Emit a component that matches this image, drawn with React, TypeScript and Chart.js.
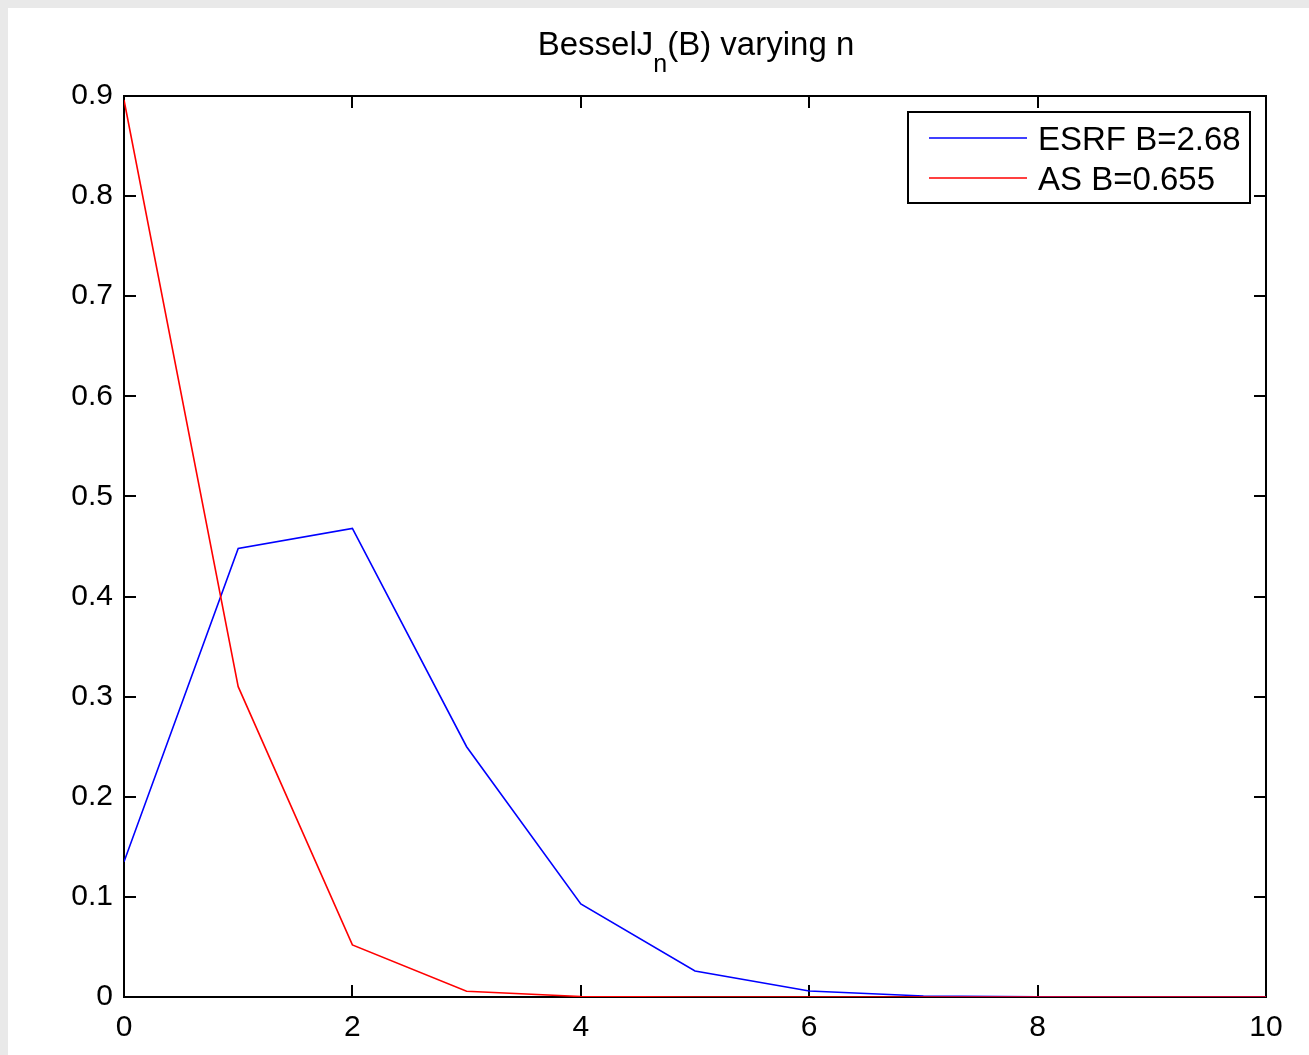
import React, { useEffect, useRef } from "react";
import { Chart, registerables } from "chart.js";

Chart.register(...registerables);

const nValues = [0, 1, 2, 3, 4, 5, 6, 7, 8, 9, 10];
const esrfValues = [0.135, 0.448, 0.468, 0.25, 0.093, 0.026, 0.006, 0.001, 0.0002, 0, 0];
const asValues = [0.896, 0.31, 0.052, 0.0057, 0.0005, 0.00003, 0, 0, 0, 0, 0];
const xTicks = [0, 2, 4, 6, 8, 10];
const yTicks = [0, 0.1, 0.2, 0.3, 0.4, 0.5, 0.6, 0.7, 0.8, 0.9];
const titleMain = "BesselJ";
const titleSub = "n";
const titleRest = "(B) varying n";
const seriesLabels = ["ESRF B=2.68", "AS B=0.655"];
const seriesColors = ["#0000ff", "#ff0000"];

const FONT = "'Liberation Sans', Arial, Helvetica, sans-serif";
const PAGE_GRAY = "#e9e9e9";

const fmt = (v: number) => String(Number(v.toFixed(2)));

const framePlugin = {
  id: "frame",
  beforeDatasetsDraw(chart: any) {
    const { ctx, chartArea } = chart;
    const { left, right, top, bottom } = chartArea;
    const xs = chart.scales.x;
    const ys = chart.scales.y;
    const tl = 12;
    ctx.save();
    ctx.strokeStyle = "#000";
    ctx.lineWidth = 2;
    ctx.beginPath();
    xTicks.forEach((v) => {
      const px = Math.round(xs.getPixelForValue(v));
      ctx.moveTo(px, bottom);
      ctx.lineTo(px, bottom - tl);
      ctx.moveTo(px, top);
      ctx.lineTo(px, top + tl);
    });
    yTicks.forEach((v) => {
      const py = Math.round(ys.getPixelForValue(v));
      ctx.moveTo(left, py);
      ctx.lineTo(left + tl, py);
      ctx.moveTo(right, py);
      ctx.lineTo(right - tl, py);
    });
    ctx.stroke();
    ctx.strokeRect(left, top, right - left, bottom - top);
    ctx.restore();
  },
  afterDraw(chart: any) {
    const { ctx, chartArea } = chart;
    const { left, right } = chartArea;
    ctx.save();
    // title
    ctx.fillStyle = "#000";
    ctx.textBaseline = "alphabetic";
    ctx.textAlign = "left";
    const mainFont = `33px ${FONT}`;
    const subFont = `25px ${FONT}`;
    ctx.font = mainFont;
    const w1 = ctx.measureText(titleMain).width;
    const w3 = ctx.measureText(titleRest).width;
    ctx.font = subFont;
    const w2 = ctx.measureText(titleSub).width;
    const total = w1 + w2 + w3;
    let x = (left + right) / 2 - total / 2 + 1;
    const base = 47;
    ctx.font = mainFont;
    ctx.fillText(titleMain, x, base);
    x += w1;
    ctx.font = subFont;
    ctx.fillText(titleSub, x, base + 17);
    x += w2;
    ctx.font = mainFont;
    ctx.fillText(titleRest, x, base);

    // legend
    const bx1 = right - 358;
    const bx2 = right - 16;
    const by1 = chartArea.top + 16;
    const by2 = chartArea.top + 107;
    ctx.fillStyle = "#fff";
    ctx.fillRect(bx1, by1, bx2 - bx1, by2 - by1);
    ctx.strokeStyle = "#000";
    ctx.lineWidth = 2;
    ctx.strokeRect(bx1, by1, bx2 - bx1, by2 - by1);
    ctx.font = `33px ${FONT}`;
    seriesLabels.forEach((lab, i) => {
      const ly = by1 + 26 + i * 40;
      ctx.strokeStyle = seriesColors[i];
      ctx.lineWidth = 1.5;
      ctx.beginPath();
      ctx.moveTo(bx1 + 21, ly);
      ctx.lineTo(bx1 + 119, ly);
      ctx.stroke();
      ctx.fillStyle = "#000";
      ctx.fillText(lab, bx1 + 130, ly + 12);
    });
    ctx.restore();
  },
};

export default function App() {
  const ref = useRef<HTMLCanvasElement | null>(null);

  useEffect(() => {
    const canvas = ref.current;
    if (!canvas) return;
    const chart = new Chart(canvas, {
      type: "line",
      data: {
        datasets: [
          {
            label: seriesLabels[0],
            data: nValues.map((n, i) => ({ x: n, y: esrfValues[i] })),
            borderColor: seriesColors[0],
            borderWidth: 1.6,
            pointRadius: 0,
            tension: 0,
            fill: false,
            order: 2,
          },
          {
            label: seriesLabels[1],
            data: nValues.map((n, i) => ({ x: n, y: asValues[i] })),
            borderColor: seriesColors[1],
            borderWidth: 1.6,
            pointRadius: 0,
            tension: 0,
            fill: false,
            order: 1,
          },
        ],
      },
      options: {
        animation: false,
        responsive: true,
        maintainAspectRatio: false,
        layout: { padding: { top: 88, right: 43, left: 0, bottom: 0 } },
        plugins: {
          legend: { display: false },
          title: { display: false },
          tooltip: { enabled: false },
        },
        scales: {
          x: {
            type: "linear",
            min: 0,
            max: 10,
            grid: { display: false, drawTicks: false },
            border: { display: false },
            afterBuildTicks: (scale: any) => {
              scale.ticks = xTicks.map((v) => ({ value: v }));
            },
            afterFit: (scale: any) => {
              scale.height = 58;
            },
            ticks: {
              padding: 13,
              maxRotation: 0,
              autoSkip: false,
              color: "#000",
              font: { family: FONT, size: 30 },
              callback: (v: any) => fmt(Number(v)),
            },
          },
          y: {
            type: "linear",
            min: 0,
            max: 0.9,
            grid: { display: false, drawTicks: false },
            border: { display: false },
            afterBuildTicks: (scale: any) => {
              scale.ticks = yTicks.map((v) => ({ value: v }));
            },
            afterFit: (scale: any) => {
              scale.width = 116;
            },
            ticks: {
              padding: 11,
              autoSkip: false,
              color: "#000",
              font: { family: FONT, size: 30 },
              callback: (v: any) => fmt(Number(v)),
            },
          },
        },
      },
      plugins: [framePlugin],
    });
    return () => chart.destroy();
  }, []);

  return (
    <>
      <style>{`html, body { margin: 0; padding: 0; overflow: hidden; background: ${PAGE_GRAY}; }`}</style>
      <div
        style={{
          position: "absolute",
          left: 8,
          top: 8,
          width: 1301,
          height: 1047,
          background: "#fff",
        }}
      >
        <canvas ref={ref} />
      </div>
    </>
  );
}
